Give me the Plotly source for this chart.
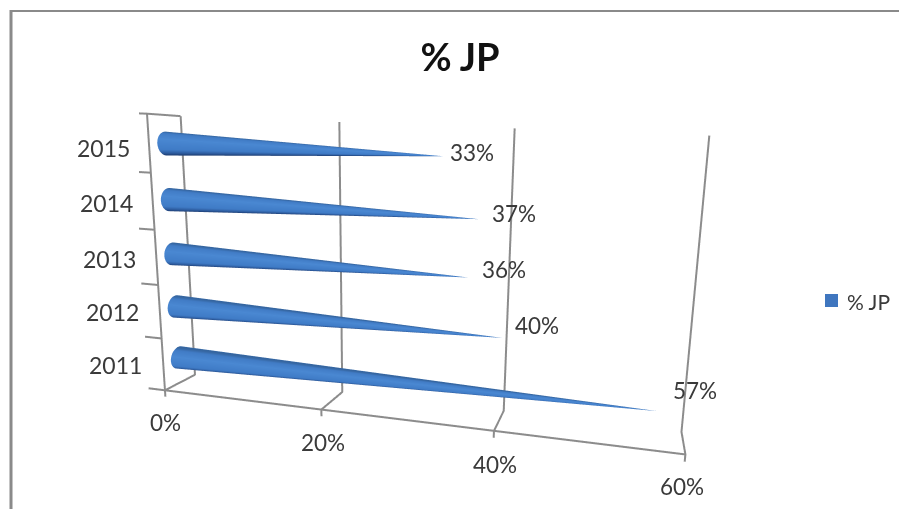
import numpy as np
import plotly.graph_objects as go

years = ["2011", "2012", "2013", "2014", "2015"]
jp_share = [57, 40, 36, 37, 33]
value_ticks = [0, 20, 40, 60]

W, H = 899, 509
XR = (-3.0, 63.0)
YR = (0.0, 1.0)
ZR = (-0.03, 1.03)
ASPECT = dict(x=1, y=0.0782, z=0.5148)
GRID = "#8c8c8c"
INK = "#3a3a3a"
BLUE = "#3f76bf"

fig = go.Figure()


def line(x, y, z):
    fig.add_trace(go.Scatter3d(x=x, y=y, z=z, mode="lines", line=dict(color=GRID, width=4),
                               showlegend=False, hoverinfo="skip"))


# floor, back wall and side wall rules with their tick stubs
for v in value_ticks:
    line([v, v, v, v], [0, 0, 1, 1], [-0.025, 0, 0, 1])
line([value_ticks[0], value_ticks[-1]], [0, 0], [0, 0])
line([0, 0, 0], [0, 0, 1], [0, 1, 1])
for k in range(len(years) + 1):
    line([-2.2, 0], [0, 0], [k / len(years)] * 2)

# cones lying along the value axis, round in scene units
n = 64
th = np.linspace(0, 2 * np.pi, n, endpoint=False)
r_z = 0.042
r_y = r_z * (ASPECT["z"] / (ZR[1] - ZR[0])) / (ASPECT["y"] / (YR[1] - YR[0]))
for i, val in enumerate(jp_share):
    zc = (i + 0.5) / len(years)
    ring_y = 0.5 + r_y * np.cos(th)
    ring_z = zc + r_z * np.sin(th)
    shade = (np.sin(th) + 1) / 2
    x = np.r_[np.zeros(n), np.full(n, float(val))]
    y = np.r_[ring_y, np.full(n, 0.5)]
    z = np.r_[ring_z, np.full(n, zc)]
    col = np.r_[shade, shade]
    ii, jj, kk = [], [], []
    for a in range(n):
        b = (a + 1) % n
        ii += [a, b]
        jj += [b, n + b]
        kk += [n + a, n + a]
    fig.add_trace(go.Mesh3d(
        x=x, y=y, z=z, i=ii, j=jj, k=kk, intensity=col, cmin=0, cmax=1,
        colorscale=[[0, "#1d3a6c"], [0.1, "#2c5a9c"], [0.25, "#3f7bc6"],
                    [0.7, "#4a88d2"], [0.93, "#417cc6"], [1, "#35659f"]],
        showscale=False, hoverinfo="skip", showlegend=False,
        lighting=dict(ambient=1, diffuse=0, specular=0, roughness=1, fresnel=0)))

TXT = dict(family="Lato, sans-serif", size=22.5, color=INK)
value_shift = [(38, 21), (35, 12), (36, 8), (35, 6), (28, 4)]
tick_shift = [(1, -32), (2, -33), (1, -34), (-3, -32)]
year_shift = [-8, -6, -5, -3, -4]
ann = []
for i, val in enumerate(jp_share):
    ann.append(dict(x=val, y=0.5, z=(i + 0.5) / len(years), text=f"{val}%", showarrow=False, font=TXT,
                    xshift=value_shift[i][0], yshift=value_shift[i][1]))
for t, v in enumerate(value_ticks):
    ann.append(dict(x=v, y=0, z=0, text=f"{v}%", showarrow=False, font=TXT,
                    xshift=tick_shift[t][0], yshift=tick_shift[t][1]))
for i, yr in enumerate(years):
    ann.append(dict(x=0, y=0.5, z=(i + 0.5) / len(years), text=yr, showarrow=False,
                    font=dict(TXT, size=23), xshift=-63, yshift=year_shift[i]))

fig.update_layout(
    width=W, height=H, margin=dict(l=0, r=0, t=0, b=0), paper_bgcolor="white", showlegend=False,
    title=dict(text="<b>% JP</b>", font=dict(family="Lato, sans-serif", size=38, color="#111111"),
               x=460 / W, xanchor="center", y=1 - 58 / H, yanchor="middle"),
    annotations=[dict(text="% JP", x=845 / W, y=1 - 301 / H, xref="paper", yref="paper", showarrow=False,
                      xanchor="left", yanchor="middle",
                      font=dict(family="Lato, sans-serif", size=21, color=INK))],
    shapes=[
        dict(type="line", xref="paper", yref="paper", x0=10 / W, x1=1, y0=1 - 11 / H, y1=1 - 11 / H,
             line=dict(color="#8a8a8a", width=2)),
        dict(type="line", xref="paper", yref="paper", x0=11 / W, x1=11 / W, y0=0, y1=1 - 10 / H,
             line=dict(color="#8a8a8a", width=3)),
        dict(type="rect", xref="paper", yref="paper", x0=825 / W, x1=838 / W, y0=1 - 307 / H, y1=1 - 294 / H,
             fillcolor=BLUE, line=dict(width=0)),
    ],
    scene=dict(
        domain=dict(x=[139 / W, 897 / W], y=[0, 1]),
        xaxis=dict(range=list(XR), visible=False),
        yaxis=dict(range=list(YR), visible=False),
        zaxis=dict(range=list(ZR), visible=False),
        aspectmode="manual", aspectratio=ASPECT, annotations=ann,
        camera=dict(eye=dict(x=0.3407, y=-0.9543, z=0.2185),
                    center=dict(x=0.1236, y=0.2765, z=-0.0063),
                    up=dict(x=-0.0178, y=-0.1272, z=1))))
fig.write_html("out.html")
